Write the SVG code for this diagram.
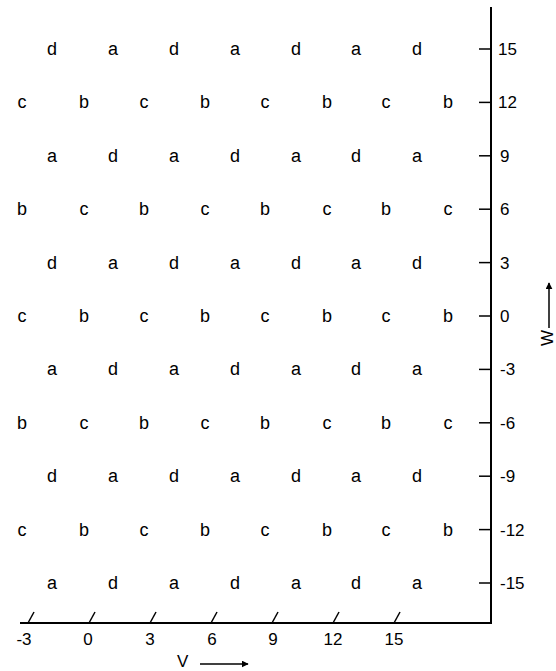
<svg xmlns="http://www.w3.org/2000/svg" width="556" height="671" viewBox="0 0 556 671">
<style>
.g{font-family:"Liberation Sans",Arial,sans-serif;font-size:18px;fill:#000;text-anchor:middle}
.n{font-family:"Liberation Sans",Arial,sans-serif;font-size:17px;fill:#000}
.ax{stroke:#000;stroke-width:2;fill:none}
.tk{stroke:#000;stroke-width:1.5;fill:none}
</style>
<defs>
<marker id="ah" viewBox="0 0 10 10" refX="9" refY="5" markerWidth="7" markerHeight="7" markerUnits="userSpaceOnUse" orient="auto">
<path d="M0,0 L10,5 L0,10 z" fill="#000"/>
</marker>
</defs>
<rect width="556" height="671" fill="#fff"/>
<g id="axes">
<line class="ax" x1="491" y1="7" x2="491" y2="624"/>
<line class="ax" x1="20" y1="623" x2="491" y2="623"/>
</g>
<g id="w-ticks" class="tk">
<line x1="479" y1="49" x2="491" y2="49"/>
<line x1="479" y1="102.4" x2="491" y2="102.4"/>
<line x1="479" y1="155.8" x2="491" y2="155.8"/>
<line x1="479" y1="209.2" x2="491" y2="209.2"/>
<line x1="479" y1="262.6" x2="491" y2="262.6"/>
<line x1="479" y1="316" x2="491" y2="316"/>
<line x1="479" y1="369.4" x2="491" y2="369.4"/>
<line x1="479" y1="422.8" x2="491" y2="422.8"/>
<line x1="479" y1="476.2" x2="491" y2="476.2"/>
<line x1="479" y1="529.6" x2="491" y2="529.6"/>
<line x1="479" y1="583" x2="491" y2="583"/>
</g>
<g id="w-labels" class="n">
<text x="498" y="55">15</text>
<text x="498" y="108.4">12</text>
<text x="500" y="161.8">9</text>
<text x="500" y="215.2">6</text>
<text x="500" y="268.6">3</text>
<text x="500" y="322">0</text>
<text x="500" y="375.4">-3</text>
<text x="500" y="428.8">-6</text>
<text x="500" y="482.2">-9</text>
<text x="500" y="535.6">-12</text>
<text x="500" y="589">-15</text>
</g>
<g id="v-ticks" class="tk">
<line x1="28" y1="623" x2="34" y2="612"/>
<line x1="89" y1="623" x2="95" y2="612"/>
<line x1="150" y1="623" x2="156" y2="612"/>
<line x1="211" y1="623" x2="217" y2="612"/>
<line x1="272" y1="623" x2="278" y2="612"/>
<line x1="333" y1="623" x2="339" y2="612"/>
<line x1="394" y1="623" x2="400" y2="612"/>
</g>
<g id="v-labels" class="n" text-anchor="middle">
<text x="24" y="645">-3</text>
<text x="88" y="645">0</text>
<text x="150" y="645">3</text>
<text x="212" y="645">6</text>
<text x="273" y="645">9</text>
<text x="333" y="645">12</text>
<text x="394" y="645">15</text>
</g>
<g id="v-axis-title">
<text class="n" x="177" y="667" font-size="16">V</text>
<line class="tk" x1="200" y1="664" x2="248" y2="664" marker-end="url(#ah)"/>
</g>
<g id="w-axis-title">
<text class="n" transform="translate(553,338) rotate(-90)" text-anchor="middle" font-size="15">W</text>
<line class="tk" x1="549" y1="328" x2="549" y2="283" marker-end="url(#ah)"/>
</g>
<g id="grid" class="g">
<g id="row15"><text x="52" y="55">d</text><text x="113" y="55">a</text><text x="174" y="55">d</text><text x="235" y="55">a</text><text x="296" y="55">d</text><text x="356" y="55">a</text><text x="417" y="55">d</text></g>
<g id="row12"><text x="22" y="108.4">c</text><text x="84" y="108.4">b</text><text x="144" y="108.4">c</text><text x="205" y="108.4">b</text><text x="265" y="108.4">c</text><text x="327" y="108.4">b</text><text x="386" y="108.4">c</text><text x="448" y="108.4">b</text></g>
<g id="row9"><text x="52" y="161.8">a</text><text x="113" y="161.8">d</text><text x="174" y="161.8">a</text><text x="235" y="161.8">d</text><text x="296" y="161.8">a</text><text x="356" y="161.8">d</text><text x="417" y="161.8">a</text></g>
<g id="row6"><text x="22" y="215.2">b</text><text x="84" y="215.2">c</text><text x="144" y="215.2">b</text><text x="205" y="215.2">c</text><text x="265" y="215.2">b</text><text x="327" y="215.2">c</text><text x="386" y="215.2">b</text><text x="448" y="215.2">c</text></g>
<g id="row3"><text x="52" y="268.6">d</text><text x="113" y="268.6">a</text><text x="174" y="268.6">d</text><text x="235" y="268.6">a</text><text x="296" y="268.6">d</text><text x="356" y="268.6">a</text><text x="417" y="268.6">d</text></g>
<g id="row0"><text x="22" y="322">c</text><text x="84" y="322">b</text><text x="144" y="322">c</text><text x="205" y="322">b</text><text x="265" y="322">c</text><text x="327" y="322">b</text><text x="386" y="322">c</text><text x="448" y="322">b</text></g>
<g id="rowm3"><text x="52" y="375.4">a</text><text x="113" y="375.4">d</text><text x="174" y="375.4">a</text><text x="235" y="375.4">d</text><text x="296" y="375.4">a</text><text x="356" y="375.4">d</text><text x="417" y="375.4">a</text></g>
<g id="rowm6"><text x="22" y="428.8">b</text><text x="84" y="428.8">c</text><text x="144" y="428.8">b</text><text x="205" y="428.8">c</text><text x="265" y="428.8">b</text><text x="327" y="428.8">c</text><text x="386" y="428.8">b</text><text x="448" y="428.8">c</text></g>
<g id="rowm9"><text x="52" y="482.2">d</text><text x="113" y="482.2">a</text><text x="174" y="482.2">d</text><text x="235" y="482.2">a</text><text x="296" y="482.2">d</text><text x="356" y="482.2">a</text><text x="417" y="482.2">d</text></g>
<g id="rowm12"><text x="22" y="535.6">c</text><text x="84" y="535.6">b</text><text x="144" y="535.6">c</text><text x="205" y="535.6">b</text><text x="265" y="535.6">c</text><text x="327" y="535.6">b</text><text x="386" y="535.6">c</text><text x="448" y="535.6">b</text></g>
<g id="rowm15"><text x="52" y="589">a</text><text x="113" y="589">d</text><text x="174" y="589">a</text><text x="235" y="589">d</text><text x="296" y="589">a</text><text x="356" y="589">d</text><text x="417" y="589">a</text></g>
</g>
</svg>
